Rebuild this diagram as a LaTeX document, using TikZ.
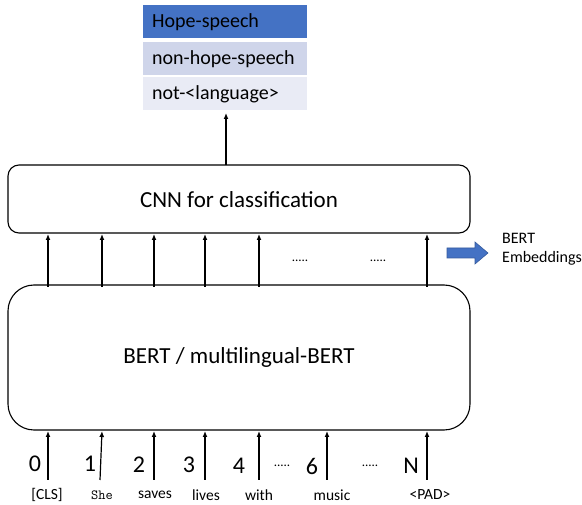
\documentclass[tikz,border=0pt]{standalone}
\usepackage{fontspec}
\setmainfont{Carlito}
\usetikzlibrary{arrows.meta}
\definecolor{darkblue}{HTML}{4472C4}
\definecolor{midblue}{HTML}{CFD5EA}
\definecolor{paleblue}{HTML}{E9EBF5}
\begin{document}
\begin{tikzpicture}[x=1pt,y=-1pt,
  box/.style={draw=black,line width=1.1pt,fill=white},
  cls/.style={minimum width=164pt,minimum height=33pt,inner sep=0pt,anchor=north west},
  clstext/.style={font=\fontsize{20}{24}\selectfont,anchor=west,inner sep=0pt},
  arr/.style={line width=1.2pt,-{Latex[length=6pt,width=5pt]}},
  num/.style={font=\fontsize{24}{28}\selectfont,inner sep=0pt},
  tok/.style={font=\fontsize{15.5}{18}\selectfont,inner sep=0pt},
  dots/.style={font=\fontsize{13}{15}\selectfont,inner sep=0pt}]
\useasboundingbox (0,0) rectangle (582,505);
% class boxes
\node[cls,fill=darkblue] (c1) at (143,5) {};
\node[cls,fill=midblue] (c2) at (143,42) {};
\node[cls,fill=paleblue] (c3) at (143,77) {};
\node[clstext] (t1) at (152,22) {Hope-speech};
\node[clstext] (t2) at (152,59) {non-hope-speech};
\node[clstext] (t3) at (152,94) {not-<language>};
% CNN box
\draw[box,rounded corners=11pt] (8,165) rectangle (470,233);
\node[font=\fontsize{23}{27}\selectfont,inner sep=0pt] (cnn) at (239,200) {CNN for classification};
% BERT box
\draw[box,rounded corners=26pt] (8,285) rectangle (470,430);
\node[font=\fontsize{23}{27}\selectfont,inner sep=0pt] (bert) at (239,357) {BERT / multilingual-BERT};
% output arrow
\coordinate (cnntop) at (226,165);
\coordinate (clsbot) at (226,113);
\draw[arr] (cnntop) -- (clsbot);
% between arrows
\foreach \x [count=\i] in {48,102,154,205,259,427} {
  \coordinate (b\i) at (\x,287);
  \coordinate (n\i) at (\x,234);
  \draw[arr] (b\i) -- (n\i);
}
\node[dots] (d1) at (300,261) {.....};
\node[dots] (d2) at (378,261) {.....};
% BERT embeddings arrow
\draw[draw=darkblue!80!black,fill=darkblue,line width=0.6pt]
  (447,248) -- (475,248) -- (475,242) -- (488,253) -- (475,264) -- (475,258) -- (447,258) -- cycle;
\node[font=\fontsize{16}{19}\selectfont,align=left,anchor=west,inner sep=0pt] (embt) at (502,249) {BERT\\Embeddings};
% input arrows
\foreach \x/\xb [count=\i] in {48/48,102/100,154/154,205/205,259/259,327/327,427/427} {
  \coordinate (in\i) at (\xb,480);
  \coordinate (bt\i) at (\x,431);
  \draw[arr] (in\i) -- (bt\i);
}
\node[num] (k0) at (35,464) {0};
\node[num] (k1) at (90,464) {1};
\node[num] (k2) at (139,465) {2};
\node[num] (k3) at (189,465) {3};
\node[num] (k4) at (239,466) {4};
\node[dots] (d3) at (282,466) {.....};
\node[num] (k6) at (312,466) {6};
\node[dots] (d4) at (370,466) {.....};
\node[num] (kn) at (411,466) {N};
\node[tok] (w0) at (47,495) {[CLS]};
\node[tok,font=\ttfamily\fontsize{14}{16}\selectfont] (w1) at (102,495) {She};
\node[tok] (w2) at (155,495) {saves};
\node[tok] (w3) at (206,495) {lives};
\node[tok] (w4) at (259,495) {with};
\node[tok] (w6) at (332,495) {music};
\node[tok] (wn) at (430,495) {<PAD>};
\end{tikzpicture}
\end{document}
